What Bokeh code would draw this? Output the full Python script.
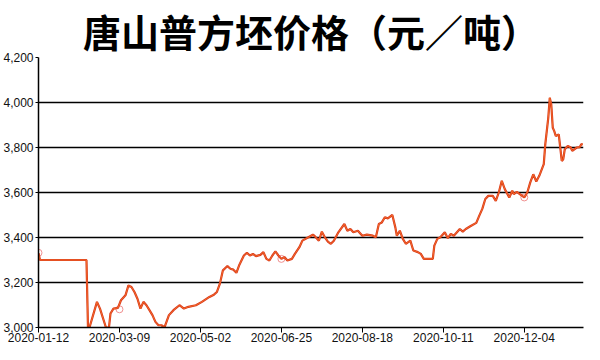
from bokeh.plotting import figure
from bokeh.models import FixedTicker, NumeralTickFormatter, Range1d, ColumnDataSource
from bokeh.embed import file_html
from bokeh.resources import INLINE

TITLE = "唐山普方坯价格（元／吨）"

# x = day index of the series, price in yuan/ton
day_idx = [0, 1, 32, 33, 34, 39, 41, 45, 47, 48, 50, 53, 55, 58, 60, 62, 64, 66, 68, 70,
           72, 74, 76, 78, 80, 82, 84, 85, 87, 90, 94, 97, 100, 105, 109, 114, 117, 119, 121, 123,
           126, 128, 130, 132, 134, 137, 139, 141, 143, 145, 148, 150, 152, 154, 156, 158, 160, 162, 164, 166,
           169, 171, 174, 176, 180, 183, 184, 187, 189, 191, 193, 195, 197, 200, 204, 206, 208, 210, 213, 216,
           219, 223, 225, 227, 229, 231, 233, 236, 238, 239, 241, 243, 245, 248, 250, 253, 255, 257, 263, 264,
           266, 268, 271, 273, 275, 277, 281, 283, 285, 288, 292, 294, 296, 298, 300, 303, 305, 307, 309, 311,
           314, 316, 317, 319, 321, 324, 326, 328, 330, 332, 334, 337, 338, 340, 341, 342, 343, 344, 345, 347,
           348, 349, 350, 351, 353, 355, 356, 359, 361, 362, 363]
price = [3330, 3300, 3300, 3000, 3000, 3114, 3084, 3000, 3000, 3062, 3084, 3087, 3121, 3143, 3187, 3180, 3158, 3128, 3084, 3114,
         3099, 3077, 3055, 3025, 3010, 3010, 3000, 3018, 3055, 3077, 3099, 3084, 3092, 3099, 3114, 3136, 3146, 3158, 3195, 3254,
         3273, 3261, 3257, 3243, 3279, 3320, 3332, 3320, 3327, 3317, 3323, 3335, 3305, 3298, 3320, 3338, 3320, 3305, 3313, 3298,
         3305, 3327, 3357, 3386, 3401, 3412, 3408, 3386, 3426, 3401, 3382, 3372, 3386, 3423, 3460, 3430, 3438, 3423, 3430, 3408,
         3413, 3408, 3401, 3460, 3467, 3490, 3485, 3500, 3445, 3408, 3430, 3394, 3372, 3386, 3342, 3335, 3327, 3305, 3305, 3364,
         3394, 3401, 3423, 3397, 3416, 3408, 3438, 3426, 3438, 3450, 3465, 3497, 3527, 3571, 3585, 3585, 3563, 3600, 3652, 3615,
         3578, 3608, 3593, 3603, 3593, 3578, 3600, 3645, 3681, 3649, 3674, 3726, 3814, 3932, 4021, 3991, 3888, 3873, 3851, 3858,
         3800, 3740, 3748, 3792, 3807, 3800, 3785, 3800, 3802, 3814, 3815]

marker_idx = [0, 54, 162, 324]
marker_val = [3332, 3081, 3305, 3578]

tick_idx = [0, 54, 108, 162, 216, 270, 324]
tick_labels = ["2020-01-12", "2020-03-09", "2020-05-02", "2020-06-25",
               "2020-08-18", "2020-10-11", "2020-12-04"]
y_ticks = [3000, 3200, 3400, 3600, 3800, 4000, 4200]

p = figure(width=584, height=344, output_backend="svg", toolbar_location=None,
           x_range=Range1d(0, 363.5), y_range=Range1d(3000, 4200),
           min_border_left=0, min_border_right=1, min_border_top=0, min_border_bottom=0)
p.title.text = TITLE
p.title.text_font = "Noto Sans CJK SC"
p.title.text_font_size = "38px"
p.title.text_font_style = "bold"
p.title.align = "center"
p.title.text_color = "#000000"
p.title.standoff = 0
p.title.offset = 0
p.outline_line_color = None
p.background_fill_color = "white"
p.border_fill_color = "white"

p.xgrid.visible = False
p.ygrid.grid_line_color = "black"
p.ygrid.grid_line_width = 1.5
p.ygrid.ticker = FixedTicker(ticks=y_ticks)

p.yaxis.ticker = FixedTicker(ticks=y_ticks)
p.yaxis.formatter = NumeralTickFormatter(format="0,0")
p.xaxis.ticker = FixedTicker(ticks=tick_idx)
p.xaxis.major_label_overrides = {t: l for t, l in zip(tick_idx, tick_labels)}

for ax in (p.xaxis[0], p.yaxis[0]):
    ax.axis_line_color = "black"
    ax.axis_line_width = 1.5
    ax.major_tick_line_color = "black"
    ax.major_tick_line_width = 1
    ax.major_tick_in = 0
    ax.minor_tick_line_color = None
    ax.major_label_text_font = "Liberation Sans"
    ax.major_label_text_font_size = "12px"
    ax.major_label_text_color = "#111111"
p.xaxis.major_tick_out = 5
p.xaxis.major_label_standoff = 0
p.yaxis.major_tick_out = 3
p.yaxis.major_label_standoff = 2

src = ColumnDataSource(dict(x=day_idx, y=price))
p.scatter(x=marker_idx, y=marker_val, size=7, fill_color=None,
          line_color="#F09090", line_width=1)
p.line("x", "y", source=src, line_color="#D8361A", line_width=2.2)
p.line("x", "y", source=src, line_color="#F26A2A", line_width=1)

open("out.html", "w").write(file_html(p, INLINE))
